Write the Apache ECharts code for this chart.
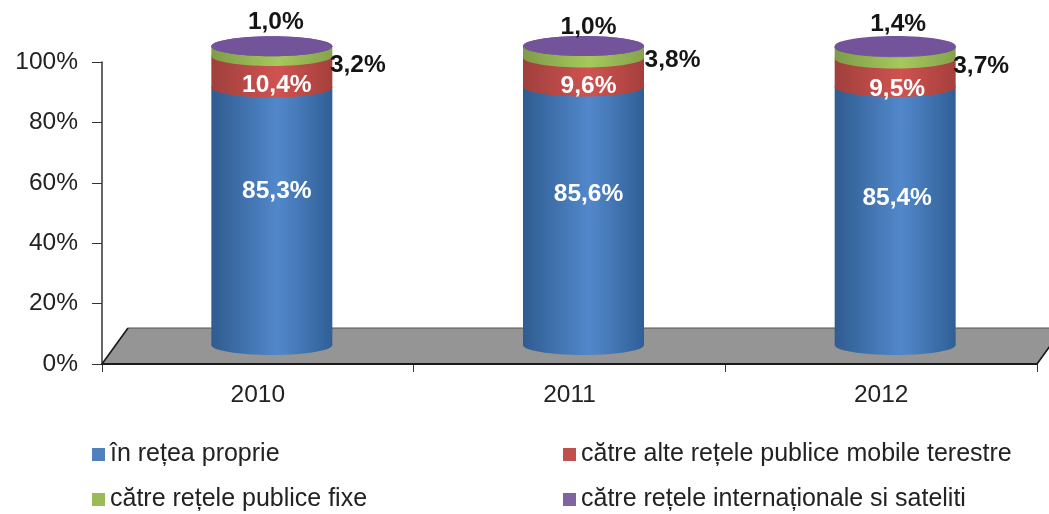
<!DOCTYPE html>
<html><head><meta charset="utf-8">
<style>html,body{margin:0;padding:0;background:#fff}#c{width:1049px;height:514px;filter:blur(0.5px)}</style>
<script src="https://cdn.jsdelivr.net/npm/echarts@6/dist/echarts.min.js"></script>
</head><body><div id="c"></div>
<script>
const years = ['2010','2011','2012'];
const seriesNames = ['în rețea proprie','către alte rețele publice mobile terestre','către rețele publice fixe','către rețele internaționale si sateliti'];
const inNetwork = [85.3,85.6,85.4];
const otherMobile = [10.4,9.6,9.5];
const fixedNetworks = [3.2,3.8,3.7];
const international = [1.0,1.0,1.4];
const allValues = [inNetwork,otherMobile,fixedNetworks,international];

// style only
const gradients = [
  ['#2f5c90','#5288cb','#2f5f96'],
  ['#a03f3c','#cf5350','#a53f3c'],
  ['#7f9b48','#a5c95c','#86a24c'],
  ['#6a4f8a','#7f5fa5','#6a4f8a']
];
const legendColors = ['#4f81bd','#c0504d','#9bbb59','#8064a2'];
const depthX = 14, depthY = -19, radiusX = 60.5, radiusY = 10, lidDrop = 3;
const fontFamily = '"Liberation Sans", Arial, sans-serif';
// label nudges per series, per year [dx, dy]
const labelNudge = [
  [[5,-25],[5,-21],[2,-18]],
  [[5,8],[5,8],[2,11]],
  [[86,8],[89,2],[86,7]],
  [[4,-21],[5,-16],[3,-19]]
];
const labelText = v => v.toFixed(1).replace('.',',') + '%';

function grad(c){
  return new echarts.graphic.LinearGradient(0,0,1,0,[
    {offset:0,color:c[0]},{offset:0.55,color:c[1]},{offset:1,color:c[2]}]);
}
function cylinderSeries(si){
  const data = years.map((y,i)=>{
    let base = 0;
    for(let k=0;k<si;k++) base += allValues[k][i];
    return [i, base, base + allValues[si][i], allValues[si][i]];
  });
  return {
    type:'custom', name:seriesNames[si], z:3+si,
    itemStyle:{color:legendColors[si]},
    encode:{x:0,y:[1,2]}, clip:false, data,
    renderItem(params,api){
      const i = api.value(0);
      const p0 = api.coord([i,api.value(1)]);
      const p1 = api.coord([i,api.value(2)]);
      const x = p0[0]+depthX, yB = p0[1]+depthY;
      const yT = p1[1]+depthY + (si===3 ? lidDrop : 0);
      const fill = grad(gradients[si]);
      const kids = [
        {type:'ellipse',shape:{cx:x,cy:yB,rx:radiusX,ry:radiusY},style:{fill}},
        {type:'rect',shape:{x:x-radiusX,y:yT,width:radiusX*2,height:Math.max(0,yB-yT)},style:{fill}}
      ];
      if(si===3){
        kids.push({type:'ellipse',shape:{cx:x,cy:yT,rx:radiusX,ry:radiusY},style:{fill:'#73549a'}});
      }
      const n = labelNudge[si][i];
      const mid = si===3 ? yT-lidDrop : (yT+yB)/2 + (si===0?0:radiusY*0.6);
      kids.push({type:'text',z2:50,style:{
        x:x+n[0], y:mid+n[1], text:labelText(api.value(3)),
        fill: si<2 ? '#ffffff' : '#151515',
        font:'bold 24.5px '+fontFamily,
        align:'center', verticalAlign:'middle'}});
      return {type:'group',children:kids};
    }
  };
}
const floorSeries = {
  type:'custom', z:1, silent:true, clip:false, data:[[0,0]], encode:{x:0,y:1},
  renderItem(params){
    const g = params.coordSys;
    const b = g.y+g.height, l = g.x, r = g.x+g.width;
    const dx = 26, dy = -36;
    return {type:'group',children:[
      {type:'polygon',shape:{points:[[l,b],[l+dx,b+dy],[r+dx,b+dy],[r,b]]},
       style:{fill:'#959595',stroke:'#555555',lineWidth:1}},
      {type:'line',shape:{x1:l,y1:b,x2:l+dx,y2:b+dy},style:{stroke:'#1a1a1a',lineWidth:1.6}},
      {type:'line',shape:{x1:l,y1:b,x2:r,y2:b},style:{stroke:'#1a1a1a',lineWidth:2}},
      {type:'line',shape:{x1:r,y1:b,x2:r+dx,y2:b+dy},style:{stroke:'#1a1a1a',lineWidth:1.6}}
    ]};
  }
};
const legendFont = {fontFamily,fontSize:25,color:'#222'};
const chart = echarts.init(document.getElementById('c'),null,{renderer:'canvas'});
chart.setOption({
  animation:false, backgroundColor:'#fff',
  grid:{left:102,right:12,top:62,bottom:150},
  legend:[
    {data:[seriesNames[0],seriesNames[2]],orient:'vertical',left:87,top:442,padding:[0,5,0,5],itemGap:20,itemWidth:13,itemHeight:13,icon:'rect',textStyle:legendFont,selectedMode:false},
    {data:[seriesNames[1],seriesNames[3]],orient:'vertical',left:558,top:442,padding:[0,5,0,5],itemGap:20,itemWidth:13,itemHeight:13,icon:'rect',textStyle:legendFont,selectedMode:false}
  ],
  xAxis:{type:'category',data:years,
    axisLine:{lineStyle:{color:'#1a1a1a',width:2}},
    axisTick:{show:true,length:8,lineStyle:{color:'#333'}},
    axisLabel:{margin:19,fontFamily,fontSize:24.5,color:'#222'}},
  yAxis:{type:'value',min:0,max:100,interval:20,
    axisLine:{show:true,lineStyle:{color:'#333',width:1.5}},
    axisTick:{show:true,length:10,lineStyle:{color:'#333'}},
    splitLine:{show:false},
    axisLabel:{margin:24,formatter:'{value}%',fontFamily,fontSize:24.5,color:'#222'}},
  series:[floorSeries].concat(allValues.map((v,i)=>cylinderSeries(i)))
});
</script></body></html>
